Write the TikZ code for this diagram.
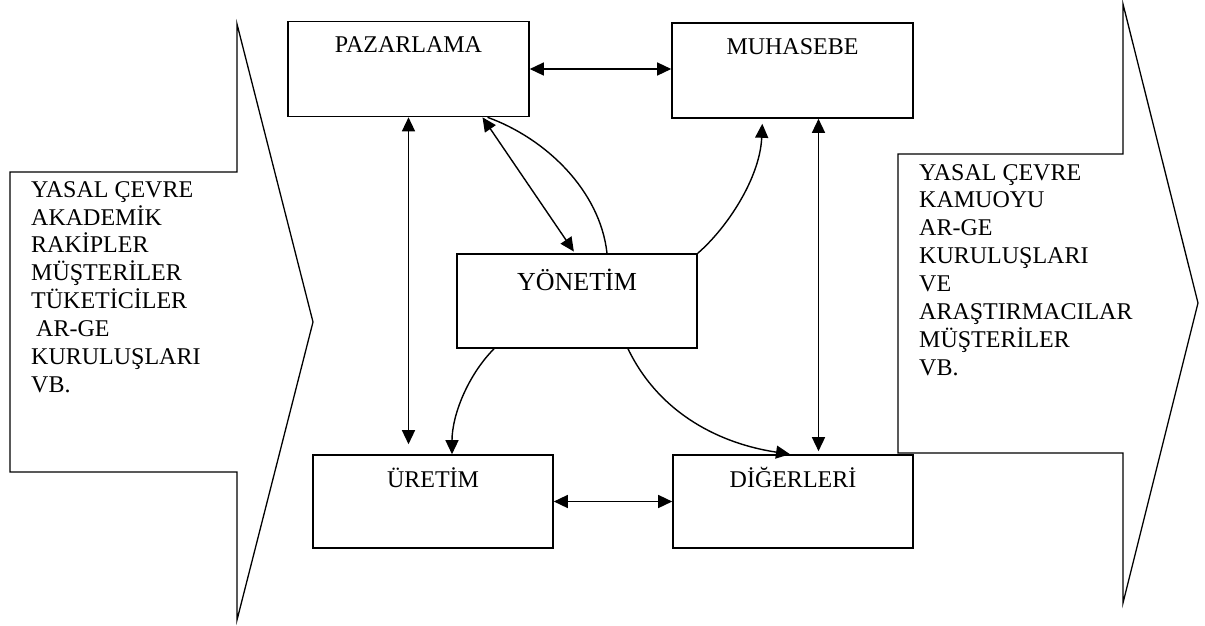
\documentclass[tikz,border=0pt]{standalone}
\usepackage{fontspec}
\setmainfont{Liberation Serif}
\usetikzlibrary{arrows.meta}
\begin{document}
\begin{tikzpicture}[x=1pt,y=-1pt,
  box/.style={draw, line width=1.6pt, minimum width=241pt, minimum height=95pt, inner sep=0pt},
  lbl/.style={anchor=base, font=\fontsize{24}{28}\selectfont, inner sep=0pt},
  tip/.style={line width=1.4pt, -{Triangle[length=14pt,width=13pt]}},
  twoway/.style={line width=1.4pt, {Triangle[length=14pt,width=13pt]}-{Triangle[length=14pt,width=13pt]}},
  plain/.style={line width=1.4pt},
  env/.style={draw, line width=1.3pt, line join=miter},
  envtext/.style={anchor=north west, align=left, font=\fontsize{24}{27.9}\selectfont, inner sep=0pt}]

\fill[white] (0,0) rectangle (1205,625);
\useasboundingbox (0,0) rectangle (1205,625);

% environment arrows on both sides
\draw[env] (10,172) -- (237,172) -- (237,24) -- (313,322) -- (237,620) -- (237,472) -- (10,472) -- cycle;
\draw[env] (898,154) -- (1123,154) -- (1123,4) -- (1198,303) -- (1123,603) -- (1123,453) -- (898,453) -- cycle;

\node[envtext] (intext) at (31,181) {YASAL ÇEVRE\\AKADEMİK\\RAKİPLER\\MÜŞTERİLER\\TÜKETİCİLER\\\hspace{5pt}AR-GE\\KURULUŞLARI\\VB.};
\node[envtext] (outtext) at (919,164) {YASAL ÇEVRE\\KAMUOYU\\AR-GE\\KURULUŞLARI\\VE\\ARAŞTIRMACILAR\\MÜŞTERİLER\\VB.};

% departments
\node[box] (paz) at (408.5,69) {};
\node[box] (muh) at (792.5,70.5) {};
\node[box, minimum width=240pt, minimum height=94pt] (yon) at (577,301) {};
\node[box, minimum width=240pt, minimum height=93pt] (ure) at (433,501.5) {};
\node[box, minimum width=240pt, minimum height=93pt] (dig) at (793,501.5) {};

\node[lbl] at ([yshift=-32pt]paz.north) {PAZARLAMA};
\node[lbl] at ([yshift=-32pt]muh.north) {MUHASEBE};
\node[lbl, font=\fontsize{26}{30}\selectfont] at ([yshift=-37pt]yon.north) {YÖNETİM};
\node[lbl] at ([yshift=-33pt]ure.north) {ÜRETİM};
\node[lbl] at ([yshift=-33pt]dig.north) {DİĞERLERİ};

% two-way links between departments
\draw[twoway] (paz.east) -- (paz.east -| muh.west);
\draw[twoway] (ure.east) -- (ure.east -| dig.west);
\draw[twoway] (paz.south) -- ([yshift=10pt]paz.south |- ure.north);
\coordinate (mcol) at ([xshift=26pt]muh.south);
\draw[twoway] (mcol) -- ([yshift=3pt]mcol |- dig.north);
\draw[twoway, shorten >=2pt] ([xshift=74pt]paz.south) -- ([xshift=-2pt]yon.north);

% management links
\draw[plain] ([xshift=30pt]yon.north) .. controls (600,190) and (545,138) .. ([xshift=79pt]paz.south);
\draw[tip, shorten >=5pt] (yon.north east) .. controls (727,228) and (760,178) .. ([xshift=-30pt]muh.south);
\draw[tip] ([xshift=-83pt]yon.south) .. controls (468,375) and (452,415) .. ([xshift=19pt]ure.north);
\draw[tip] ([xshift=51pt]yon.south) .. controls (660,415) and (722,444) .. ([xshift=-3pt]dig.north);
\end{tikzpicture}
\end{document}
